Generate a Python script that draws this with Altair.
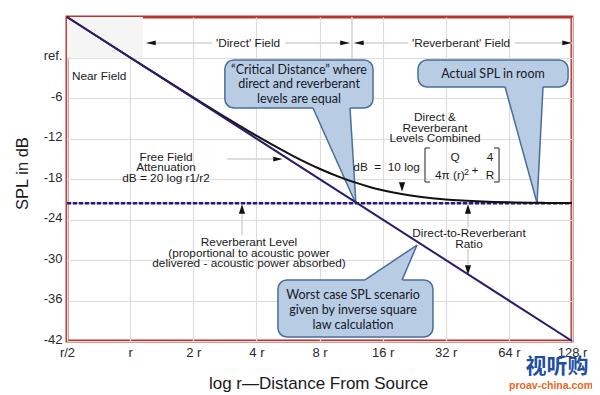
import altair as alt
import pandas as pd

# ---------------- data (x = distance in multiples of r, y = SPL in dB re. level at r) -------------
tick_d = [0.5, 1, 2, 4, 8, 16, 32, 64, 128]
tick_lbl = ["r/2", "r", "2 r", "4 r", "8 r", "16 r", "32 r", "64 r", "128 r"]
db_ticks = [0, -6, -12, -18, -24, -30, -36, -42]

direct_d = [0.5, 128]
direct_db = [6.0, -42.0]

reverb_d = [0.5, 128]
reverb_db = [-21.6, -21.6]

comb_d = [0.5, 1, 1.5, 2, 3, 4, 5, 6, 7, 8, 10, 12, 14, 16, 20, 24, 32, 40, 48, 64, 96, 128]
comb_db = [6.0, 0.0, -3.45, -5.9, -9.28, -11.59, -13.29, -14.6, -15.64, -16.48, -17.72, -18.58,
           -19.21, -19.66, -20.27, -20.64, -21.04, -21.22, -21.34, -21.46, -21.54, -21.57]

# near-field shading
near_d = [0.5, 1.15]
near_db = [6.0, 0.0]

# grey guide segments (d1, d2, db1, db2)
seg_d1 = [1.19, 5.47, 11.69, 68.44, 11.43, 2.897, 3.415, 40.85, 40.85]
seg_d2 = [2.457, 11.18, 21.14, 128, 11.43, 4.8, 3.415, 40.85, 40.85]
seg_db1 = [2.15, 2.15, 2.15, 2.15, 6.0, -15.04, -23.04, -23.04, -28.37]
seg_db2 = [2.15, 2.15, 2.15, 2.15, -0.37, -15.04, -26.3, -25.26, -30.74]

# arrow heads
arrow_d = [1.258, 10.58, 12.34, 121.2, 5.07, 3.415, 19.8, 40.85, 40.85]
arrow_db = [2.15, 2.15, 2.15, 2.15, -15.04, -22.44, -19.19, -22.44, -31.48]
arrow_dir = ["left", "right", "left", "right", "right", "up", "down", "up", "down"]

# callout boxes
box_d1 = [2.83, 23.6, 5.07]
box_d2 = [14.4, 122.6, 27.8]
box_db1 = [-0.37, -0.37, -32.96]
box_db2 = [-7.48, -4.37, -41.41]

# callout pointers (filled polygons as area)
ptr_id = ["a", "a", "a", "b", "b", "b", "c", "c", "c"]
ptr_d = [7.45, 11.18, 11.94, 61.4, 87.2, 93.1, 13.19, 19.8, 23.34]
ptr_top = [-7.19, -7.19, -21.7, -4.07, -4.07, -4.07, -32.96, -29.27, -27.78]
ptr_bot = [-7.48, -19.72, -21.7, -4.37, -21.56, -4.37, -33.26, -33.26, -27.78]

# callout pointer edges
edge_d1 = [7.45, 11.18, 61.4, 93.1, 13.19, 19.8]
edge_d2 = [11.94, 11.94, 87.2, 87.2, 23.34, 23.34]
edge_db1 = [-7.48, -7.48, -4.37, -4.37, -32.96, -32.96]
edge_db2 = [-21.7, -21.7, -21.56, -21.56, -27.78, -27.78]

# callout texts
call_text = ["\u201cCritical Distance\u201d where", "direct and reverberant", "levels are equal",
             "Actual SPL in room",
             "Worst case SPL scenario", "given by inverse square", "law calculation"]
call_d = [6.39, 6.39, 6.39, 53.8, 11.56, 11.56, 11.56]
call_db = [-1.85, -3.93, -6.15, -2.44, -35.19, -37.41, -39.63]

# centred annotation texts
lab_text = ["'Direct' Field", "'Reverberant' Field",
            "Free Field", "Attenuation", "dB = 20 log r1/r2",
            "Direct &", "Reverberant", "Levels Combined",
            "Reverberant Level", "(proportional to acoustic power",
            "delivered - acoustic power absorbed)",
            "Direct-to-Reverberant", "Ratio",
            "Q", "+", "4", "R"]
lab_d = [3.65, 37.84, 1.483, 1.483, 1.483, 28.44, 28.44, 28.44, 3.69, 3.69, 3.69,
         41.3, 41.3, 35.43, 44.1, 52.0, 52.0]
lab_db = [2.15, 2.15, -14.74, -16.22, -17.85, -8.81, -10.44, -11.93, -27.33, -28.96, -30.44,
          -26.0, -27.63, -14.74, -16.67, -14.74, -17.41]

# left / right aligned texts
left_text = ["Near Field", "4\u03c0 (r)"]
left_d = [0.528, 28.44]
left_db = [-2.74, -17.41]
right_text = ["dB\u00a0\u00a0=\u00a0\u00a010 log"]
right_d = [24.1]
right_db = [-16.22]
sup_text = ["2"]
sup_d = [39.1]
sup_db = [-16.9]

# formula brackets
br_d1 = [25.48, 25.48, 25.48, 57.44, 54.35, 54.35]
br_d2 = [25.48, 26.91, 26.91, 57.44, 57.44, 57.44]
br_db1 = [-13.41, -13.41, -18.44, -13.41, -13.41, -18.44]
br_db2 = [-18.44, -13.41, -18.44, -18.44, -13.41, -18.44]

# watermark
wm_text = ["\u89c6\u542c\u8d2d", "proav-china.com"]
wm_d = [108.5, 101.7]
wm_db = [-45.9, -48.7]

# ---------------- scales / axes ----------------
xs = alt.Scale(type="log", base=2, domain=[0.5, 128], nice=False)
ys = alt.Scale(domain=[-42, 6], nice=False, zero=False)

x_expr = ""
for v, l in zip(tick_d, tick_lbl):
    x_expr += f"datum.value == {v} ? '{l}' : "
x_expr += "''"

xa = alt.Axis(values=tick_d, labelExpr=x_expr, grid=True, domain=False, ticks=False,
              labelFlush=False, labelOverlap=False, labelPadding=5, labelFontSize=13,
              title="log r\u2014Distance From Source", titleFontSize=17, titleFontWeight="normal",
              titleX=251, titleY=42, titleBaseline="middle", titleAlign="center")
ya = alt.Axis(values=db_ticks, labelExpr="datum.value == 0 ? 'ref.' : '-' + abs(datum.value)",
              grid=True, domain=False, ticks=False, labelFlush=False, labelOverlap=False,
              labelPadding=5, labelFontSize=13, labelOffset=-2,
              title="SPL in dB", titleFontSize=16.5, titleFontWeight="normal",
              titleX=-45, titleY=156, titleBaseline="middle", titleAlign="center")


def X(f):
    return alt.X(f, type="quantitative", scale=xs, axis=xa)


def Y(f):
    return alt.Y(f, type="quantitative", scale=ys, axis=ya)


GREY = "#d2d2d2"
NAVY = "#2a1d6e"
BOX_FILL = "#b8cce4"
BOX_EDGE = "#4a6d9c"
TXT = "#1a1a1a"

near = alt.Chart(pd.DataFrame({"d": [near_d[0]], "d2": [near_d[1]], "db": [near_db[0]], "db2": [near_db[1]]})) \
    .mark_rect(color="#f5f5f5").encode(x=X("d"), x2="d2", y=Y("db"), y2="db2")

segs = alt.Chart(pd.DataFrame({"d": seg_d1, "d2": seg_d2, "db": seg_db1, "db2": seg_db2})) \
    .mark_rule(color=GREY, strokeWidth=1.5).encode(x=X("d"), x2="d2", y=Y("db"), y2="db2")

ptr = alt.Chart(pd.DataFrame({"id": ptr_id, "d": ptr_d, "top": ptr_top, "bot": ptr_bot})) \
    .mark_area(color=BOX_FILL, opacity=0.9, orient="vertical").encode(
        x=X("d"), y=Y("top"), y2="bot", detail="id:N")

boxes = alt.Chart(pd.DataFrame({"d": box_d1, "d2": box_d2, "db": box_db1, "db2": box_db2})) \
    .mark_rect(fill=BOX_FILL, stroke=BOX_EDGE, strokeWidth=1.5, cornerRadius=9) \
    .encode(x=X("d"), x2="d2", y=Y("db"), y2="db2")

ptr_cover = alt.Chart(pd.DataFrame({"id": ptr_id, "d": ptr_d, "top": ptr_top, "bot": ptr_bot})) \
    .mark_area(color=BOX_FILL, orient="vertical").encode(
        x=X("d"), y=Y("top"), y2="bot", detail="id:N")

edges = alt.Chart(pd.DataFrame({"d": edge_d1, "d2": edge_d2, "db": edge_db1, "db2": edge_db2})) \
    .mark_rule(color=BOX_EDGE, strokeWidth=1.5).encode(x=X("d"), x2="d2", y=Y("db"), y2="db2")

rev_df = pd.DataFrame({"d": reverb_d, "db": reverb_db})
rev_base = alt.Chart(rev_df).mark_line(color="#b3aad6", strokeWidth=2).encode(x=X("d"), y=Y("db"))
rev_dash = alt.Chart(rev_df).mark_line(color=NAVY, strokeWidth=2.5, strokeDash=[4, 2]) \
    .encode(x=X("d"), y=Y("db"))

comb = alt.Chart(pd.DataFrame({"d": comb_d, "db": comb_db})) \
    .mark_line(color="#111111", strokeWidth=2, interpolate="monotone").encode(x=X("d"), y=Y("db"))

direct = alt.Chart(pd.DataFrame({"d": direct_d, "db": direct_db})) \
    .mark_line(color=NAVY, strokeWidth=2).encode(x=X("d"), y=Y("db"))

shape_dom = ["left", "right", "up", "down"]
shape_rng = ["M-1,0L1,-0.5L1,0.5Z", "M1,0L-1,-0.5L-1,0.5Z",
             "M0,-1L0.65,1L-0.65,1Z", "M0,1L0.65,-1L-0.65,-1Z"]
arrows = alt.Chart(pd.DataFrame({"d": arrow_d, "db": arrow_db, "dir": arrow_dir})) \
    .mark_point(filled=True, color="#111111", opacity=1, size=90).encode(
        x=X("d"), y=Y("db"),
        shape=alt.Shape("dir:N", scale=alt.Scale(domain=shape_dom, range=shape_rng), legend=None))

brackets = alt.Chart(pd.DataFrame({"d": br_d1, "d2": br_d2, "db": br_db1, "db2": br_db2})) \
    .mark_rule(color="#555555", strokeWidth=1.3).encode(x=X("d"), x2="d2", y=Y("db"), y2="db2")

call = alt.Chart(pd.DataFrame({"d": call_d, "db": call_db, "t": call_text})) \
    .mark_text(font="Lato", fontSize=12.5, color="#15192a", align="center", baseline="middle") \
    .encode(x=X("d"), y=Y("db"), text="t:N")

labs = alt.Chart(pd.DataFrame({"d": lab_d, "db": lab_db, "t": lab_text})) \
    .mark_text(font="Liberation Sans", fontSize=11.8, color=TXT, align="center", baseline="middle") \
    .encode(x=X("d"), y=Y("db"), text="t:N")

labs_l = alt.Chart(pd.DataFrame({"d": left_d, "db": left_db, "t": left_text})) \
    .mark_text(font="Liberation Sans", fontSize=11.8, color=TXT, align="left", baseline="middle") \
    .encode(x=X("d"), y=Y("db"), text="t:N")

labs_r = alt.Chart(pd.DataFrame({"d": right_d, "db": right_db, "t": right_text})) \
    .mark_text(font="Liberation Sans", fontSize=11.8, color=TXT, align="right", baseline="middle") \
    .encode(x=X("d"), y=Y("db"), text="t:N")

sup = alt.Chart(pd.DataFrame({"d": sup_d, "db": sup_db, "t": sup_text})) \
    .mark_text(font="Liberation Sans", fontSize=9, color=TXT, align="left", baseline="middle") \
    .encode(x=X("d"), y=Y("db"), text="t:N")

wm1 = alt.Chart(pd.DataFrame({"d": wm_d[:1], "db": wm_db[:1], "t": wm_text[:1]})) \
    .mark_text(font="Noto Sans CJK SC", fontSize=21, fontWeight="bold", color="#1f4fa3",
               align="center", baseline="middle") \
    .encode(x=X("d"), y=Y("db"), text="t:N")
wm2 = alt.Chart(pd.DataFrame({"d": wm_d[1:], "db": wm_db[1:], "t": wm_text[1:]})) \
    .mark_text(font="Liberation Sans", fontSize=10.5, fontWeight="bold", color="#e8661e",
               align="center", baseline="middle") \
    .encode(x=X("d"), y=Y("db"), text="t:N")

chart = alt.layer(
    near, segs, ptr, boxes, ptr_cover, edges, rev_base, rev_dash, comb, direct,
    arrows, brackets, call, labs, labs_l, labs_r, sup, wm1, wm2
).properties(
    width=505, height=324,
    padding={"left": 59, "top": 9, "right": 20, "bottom": 54},
    autosize=alt.AutoSizeParams(type="none"),
    background="white",
).configure_view(
    stroke="#b8352d", strokeWidth=3
).configure_axis(
    labelFont="Liberation Sans", titleFont="Liberation Sans",
    labelColor="#2a2a2a", titleColor="#1a1a1a",
    gridColor="#dcdcdc", gridWidth=1.2,
)

chart.save("out.html", embed_options={"renderer": "svg", "actions": False})
